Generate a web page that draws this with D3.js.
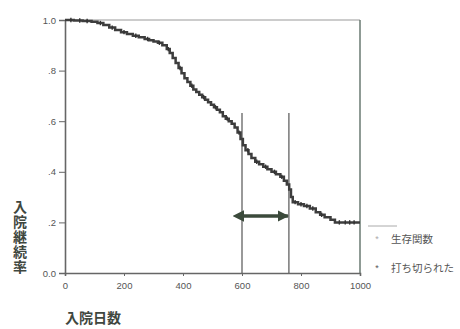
<!DOCTYPE html>
<html><head><meta charset="utf-8">
<script src="https://cdn.jsdelivr.net/npm/d3@7"></script>
<style>html,body{margin:0;padding:0;background:#fff;}svg{display:block;}</style>
</head><body>
<script>
const days = [0,30,60,90,110,130,150,170,190,210,230,250,270,285,300,315,330,345,355,365,375,385,395,405,415,425,435,445,455,465,475,485,495,505,515,525,535,545,555,565,575,585,595,603,612,622,632,645,658,672,686,700,715,730,742,752,760,766,772,790,810,830,850,865,880,900,915,1000];
const survival = [1.0,0.998,0.996,0.993,0.988,0.98,0.97,0.96,0.952,0.945,0.938,0.932,0.925,0.92,0.915,0.91,0.90,0.885,0.87,0.85,0.83,0.81,0.79,0.77,0.755,0.74,0.725,0.715,0.705,0.695,0.685,0.675,0.665,0.655,0.645,0.635,0.62,0.61,0.60,0.59,0.575,0.555,0.53,0.505,0.485,0.47,0.455,0.44,0.43,0.42,0.41,0.40,0.39,0.38,0.365,0.35,0.33,0.30,0.28,0.272,0.265,0.255,0.24,0.23,0.22,0.21,0.20,0.20];
const censored = [20,50,75,120,160,200,240,280,320,350,390,430,470,510,550,590,620,650,680,710,735,780,800,820,840,870,930,950,965,980];
const xTicks = [0,200,400,600,800,1000];
const yTicks = [0,0.2,0.4,0.6,0.8,1.0];
const yTickLabels = ["0.0",".2",".4",".6",".8","1.0"];
const markerDays = [600,759];
const legendLabels = ["生存関数","打ち切られた"];
const xTitle = "入院日数";
const yTitle = "入院継続率";

const W=460,H=329;
const svg=d3.select("body").append("svg").attr("width",W).attr("height",H);
const x=d3.scaleLinear().domain([0,1000]).range([65,360]);
const y=d3.scaleLinear().domain([0,1]).range([273,20]);
const axisCol="#666";
const font="Liberation Sans, Arial, sans-serif";

svg.append("line").attr("x1",x(0)).attr("x2",x(1000)).attr("y1",y(1)).attr("y2",y(1)).attr("stroke","#999").attr("stroke-width",1.2);
svg.append("line").attr("x1",x(1000)).attr("x2",x(1000)).attr("y1",y(1)).attr("y2",y(0)).attr("stroke","#6a7a72").attr("stroke-width",1.5);

const xa=svg.append("g").attr("transform",`translate(0,${y(0)})`).call(d3.axisBottom(x).tickValues(xTicks).tickSize(3).tickPadding(6).tickFormat(d3.format("d")));
const ya=svg.append("g").attr("transform",`translate(${x(0)},0)`).call(d3.axisLeft(y).tickValues(yTicks).tickSize(6).tickPadding(3).tickFormat((d,i)=>yTickLabels[i]));
[xa,ya].forEach(a=>{
  a.select(".domain").attr("stroke",axisCol).attr("stroke-width",1.6);
  a.selectAll(".tick line").attr("stroke",axisCol).attr("stroke-width",1);
  a.selectAll("text").attr("fill","#555").attr("font-family",font).attr("font-size",9.5);
});

svg.selectAll(".vline").data(markerDays).enter().append("line")
  .attr("x1",d=>x(d)).attr("x2",d=>x(d)).attr("y1",y(0.632)).attr("y2",y(0))
  .attr("stroke","#555").attr("stroke-width",1.2);

const pts=days.map((d,i)=>[d,survival[i]]);
svg.append("path").datum(pts)
  .attr("d",d3.line().x(d=>x(d[0])).y(d=>y(d[1])).curve(d3.curveStepAfter))
  .attr("fill","none").attr("stroke","#3d3d3d").attr("stroke-width",2.5);
function sAt(t){let s=1;for(let i=0;i<days.length;i++){if(days[i]<=t)s=survival[i];}return s;}
svg.selectAll(".cens").data(censored).enter().append("line")
  .attr("x1",d=>x(d)).attr("x2",d=>x(d)).attr("y1",d=>y(sAt(d))-2.2).attr("y2",d=>y(sAt(d))+2.2)
  .attr("stroke","#333").attr("stroke-width",1.4);

const ay=216;
const defs=svg.append("defs");
["s","e"].forEach(k=>{
  defs.append("marker").attr("id","ar"+k).attr("viewBox","0 0 10 10").attr("refX",k==="e"?9:1).attr("refY",5)
   .attr("markerWidth",3.2).attr("markerHeight",3.2).attr("orient",k==="e"?"auto":"auto-start-reverse")
   .append("path").attr("d","M0,0 L10,5 L0,10 Z").attr("fill","#3b4a3b");
});
svg.append("line").attr("x1",x(markerDays[0])+1).attr("x2",x(markerDays[1])-1).attr("y1",ay).attr("y2",ay)
  .attr("stroke","#3b4a3b").attr("stroke-width",3.6).attr("marker-start","url(#ars)").attr("marker-end","url(#are)");

svg.append("line").attr("x1",368).attr("x2",397).attr("y1",226).attr("y2",226).attr("stroke","#aaa").attr("stroke-width",1);
const lg=svg.selectAll(".lg").data(legendLabels).enter().append("g").attr("transform",(d,i)=>`translate(377,${239+i*29})`);
lg.append("text").attr("x",0).attr("y",3).attr("text-anchor","middle").attr("font-size",9).attr("fill",(d,i)=>i?"#555":"#aaa").attr("font-family",font).text("*");
lg.append("text").attr("x",14).attr("y",4).attr("font-size",10.5).attr("fill","#555").attr("font-family","Noto Sans CJK JP").text(d=>d);

svg.append("text").attr("x",93).attr("y",323).attr("text-anchor","middle").attr("font-size",14).attr("font-weight","bold")
  .attr("fill","#3f473f").attr("font-family","Noto Sans CJK JP").text(xTitle);
svg.append("text").attr("x",20).attr("y",200).attr("font-size",14).attr("font-weight","bold")
  .attr("writing-mode","vertical-rl").style("text-orientation","upright").attr("letter-spacing",1)
  .attr("fill","#3f473f").attr("font-family","Noto Sans CJK JP").text(yTitle);
</script>
</body></html>
